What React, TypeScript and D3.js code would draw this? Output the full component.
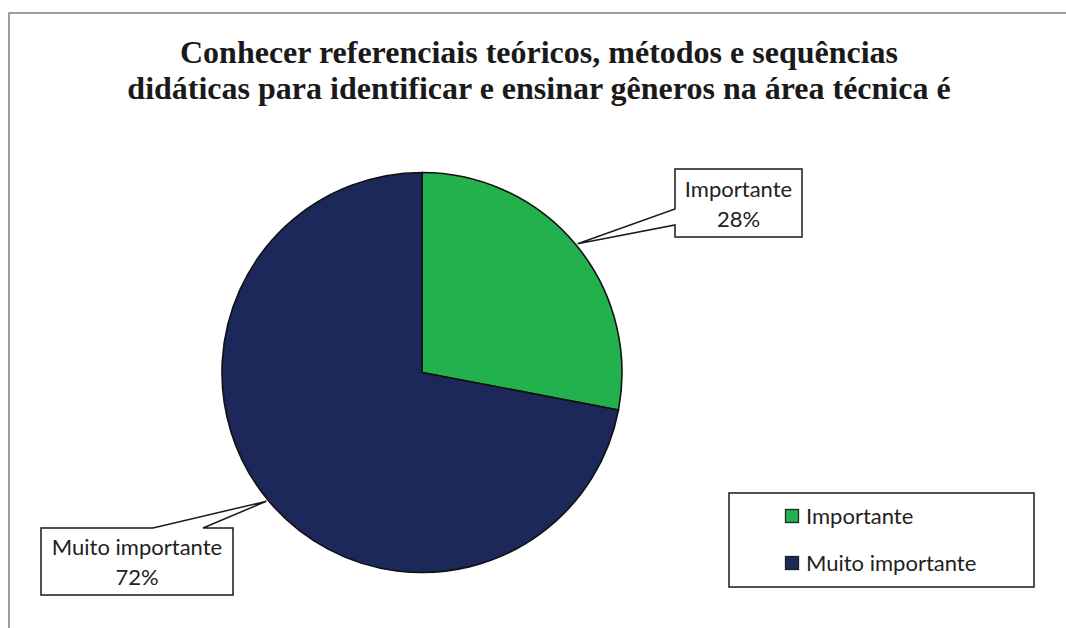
import React from "react";
import * as d3 from "d3";

const categories = ["Importante", "Muito importante"];
const values = [28, 72];
const percentLabels = ["28%", "72%"];
const sliceColors = ["#23B14D", "#1C2859"];
const titleLines = [
  "Conhecer referenciais teóricos, métodos e sequências",
  "didáticas para identificar e ensinar gêneros na área técnica é",
];

const W = 1066;
const H = 628;
const cx = 422;
const cy = 372.5;
const R = 200;
const labelFont = "Lato, 'Open Sans', sans-serif";

export default function App() {
  const pie = d3
    .pie<number>()
    .sort(null)
    .value((d) => d)
    .startAngle(0)
    .endAngle(2 * Math.PI);
  const arcs = pie(values);
  const arc = d3.arc<d3.PieArcDatum<number>>().innerRadius(0).outerRadius(R);
  const tipArc = d3
    .arc<d3.PieArcDatum<number>>()
    .innerRadius(R + 2)
    .outerRadius(R + 2);

  const tips = arcs.map((a) => tipArc.centroid(a));

  // callout boxes (layout)
  const boxes = [
    { x0: 675, y0: 169, x1: 802, y1: 237, side: "left", p0: 209, p1: 225, b1: 197, b2: 227 },
    { x0: 41, y0: 528, x1: 233, y1: 595, side: "top", p0: 153, p1: 203, b1: 555, b2: 585 },
  ];

  const calloutPath = (b: any, tip: [number, number]) => {
    const [tx, ty] = [cx + tip[0], cy + tip[1]];
    if (b.side === "left") {
      return `M${b.x0},${b.y0}L${b.x1},${b.y0}L${b.x1},${b.y1}L${b.x0},${b.y1}L${b.x0},${b.p1}L${tx},${ty}L${b.x0},${b.p0}Z`;
    }
    return `M${b.x0},${b.y0}L${b.p0},${b.y0}L${tx},${ty}L${b.p1},${b.y0}L${b.x1},${b.y0}L${b.x1},${b.y1}L${b.x0},${b.y1}Z`;
  };

  return (
    <svg
      width={W}
      height={H}
      style={{ position: "absolute", left: 0, top: 0, background: "#fff" }}
    >
      <rect x={0} y={0} width={W} height={H} fill="#fff" />
      <rect
        x={9}
        y={13}
        width={W + 20}
        height={H + 20}
        fill="none"
        stroke="#6b6b6b"
        strokeWidth={1.3}
      />
      {titleLines.map((t, i) => (
        <text
          key={i}
          x={539}
          y={63 + i * 35.5}
          textAnchor="middle"
          fontFamily="'Liberation Serif', 'Times New Roman', serif"
          fontWeight="bold"
          fontSize={32}
          fill="#1a1a1a"
        >
          {t}
        </text>
      ))}
      <g transform={`translate(${cx},${cy})`}>
        {arcs.map((a, i) => (
          <path
            key={i}
            d={arc(a) || ""}
            fill={sliceColors[i]}
            stroke="#111"
            strokeWidth={1.6}
            strokeLinejoin="round"
          />
        ))}
      </g>
      {boxes.map((b, i) => (
        <g key={i}>
          <path
            d={calloutPath(b, tips[i] as [number, number])}
            fill="#fff"
            stroke="#1a1a1a"
            strokeWidth={1.5}
          />
          <text
            x={(b.x0 + b.x1) / 2}
            y={b.b1}
            textAnchor="middle"
            fontFamily={labelFont}
            fontSize={22}
            fill="#222"
          >
            {categories[i]}
          </text>
          <text
            x={(b.x0 + b.x1) / 2}
            y={b.b2}
            textAnchor="middle"
            fontFamily={labelFont}
            fontSize={22}
            fill="#222"
          >
            {percentLabels[i]}
          </text>
        </g>
      ))}
      <rect
        x={729}
        y={493}
        width={305}
        height={94}
        fill="#fff"
        stroke="#1a1a1a"
        strokeWidth={1.5}
      />
      {categories.map((c, i) => (
        <g key={c}>
          <rect
            x={785.5}
            y={509.5 + i * 47}
            width={13}
            height={13}
            fill={sliceColors[i]}
            stroke="#222"
            strokeWidth={1.3}
          />
          <text
            x={806}
            y={524 + i * 47}
            fontFamily={labelFont}
            fontSize={22}
            fill="#222"
          >
            {c}
          </text>
        </g>
      ))}
    </svg>
  );
}
